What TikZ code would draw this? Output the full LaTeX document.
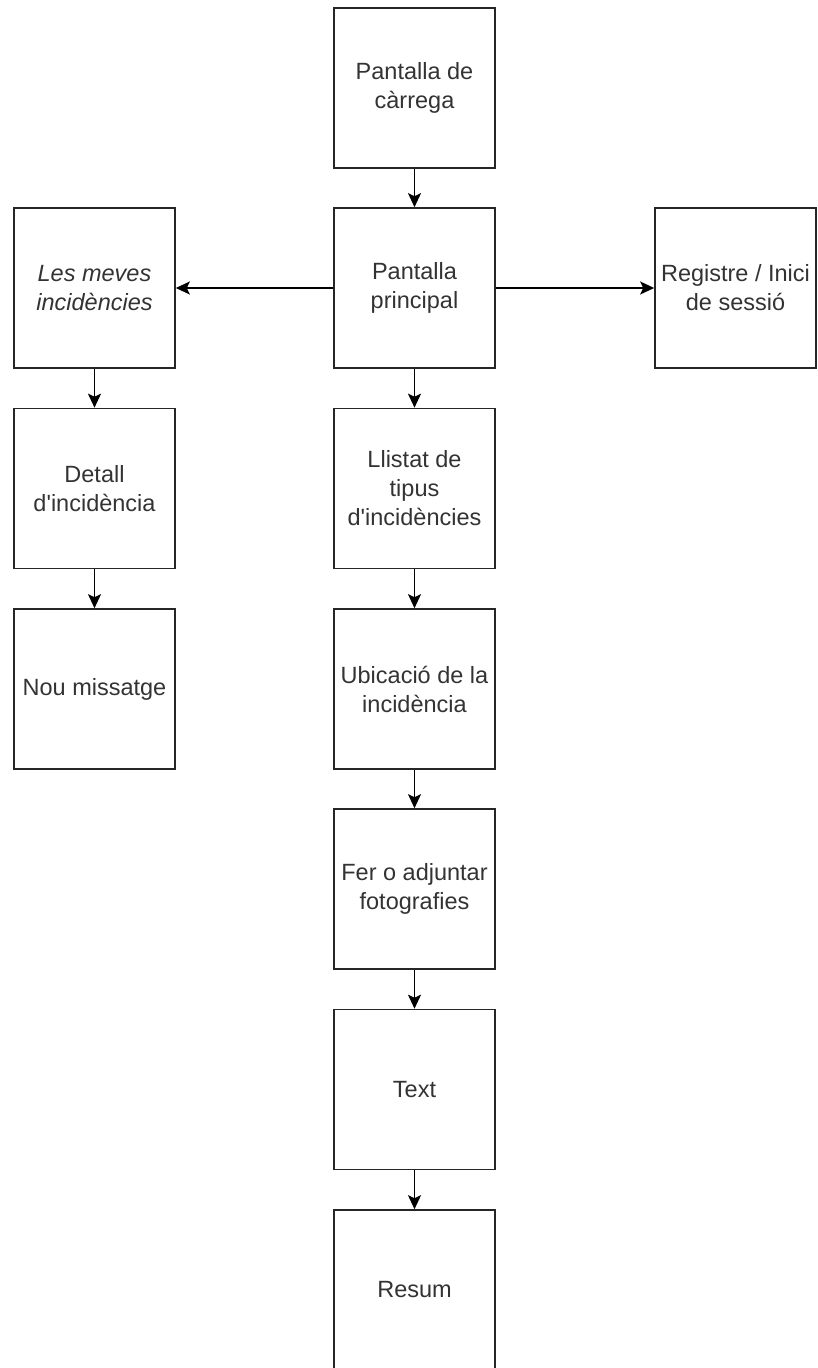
\documentclass[tikz,border=0pt]{standalone}
\usepackage{fontspec}
\setmainfont{Liberation Sans}[Ligatures=TeXOff]
\usetikzlibrary{arrows.meta}

\begin{document}
\begin{tikzpicture}[x=1pt,y=-1pt,
  pantalla/.style={draw=black!85,line width=1.6pt,minimum width=161pt,minimum height=160pt,
    align=center,inner sep=0pt,text=black!80,font=\fontsize{23.5}{29}\selectfont},
  fletxa/.style={line width=1.6pt,-{Stealth[length=14pt,width=13pt,inset=3pt]}}]
  \path[use as bounding box] (0,0) rectangle (818,1368);

  \node[pantalla] (carrega) at (414.5,88) {Pantalla de\\càrrega};
  \node[pantalla] (principal) at (414.5,288) {Pantalla\\principal};
  \node[pantalla] (llistat) at (414.5,488.5) {Llistat de\\tipus\\d'incidències};
  \node[pantalla] (ubicacio) at (414.5,689) {Ubicació de la\\incidència};
  \node[pantalla] (fotos) at (414.5,889) {Fer o adjuntar\\fotografies};
  \node[pantalla] (text) at (414.5,1089.5) {Text};
  \node[pantalla] (resum) at (414.5,1290) {Resum};

  \node[pantalla] (meves) at (94.5,288) {\itshape Les meves\\\itshape incidències};
  \node[pantalla] (detall) at (94.5,488.5) {Detall\\d'incidència};
  \node[pantalla] (missatge) at (94.5,689) {Nou missatge};

  \node[pantalla] (registre) at (735.5,288) {Registre / Inici\\de sessió};

  \draw[fletxa] (carrega) -- (principal);
  \draw[fletxa] (principal) -- (llistat);
  \draw[fletxa] (llistat) -- (ubicacio);
  \draw[fletxa] (ubicacio) -- (fotos);
  \draw[fletxa] (fotos) -- (text);
  \draw[fletxa] (text) -- (resum);

  \draw[fletxa] (principal) -- (meves);
  \draw[fletxa] (principal) -- (registre);
  \draw[fletxa] (meves) -- (detall);
  \draw[fletxa] (detall) -- (missatge);
\end{tikzpicture}
\end{document}
